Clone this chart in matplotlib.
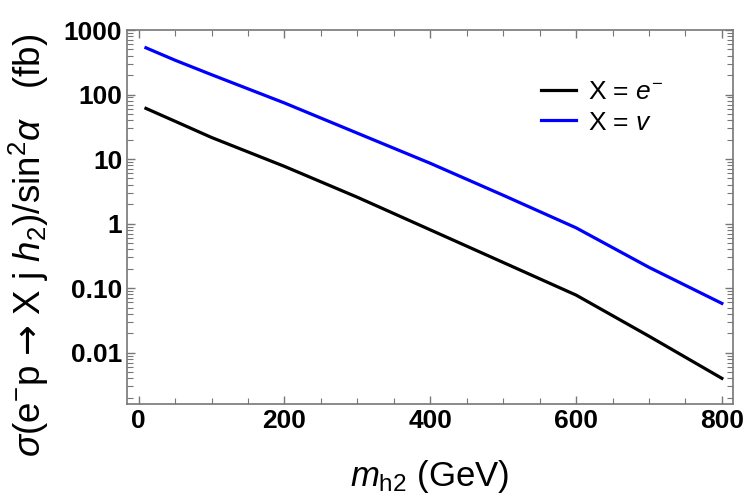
import matplotlib
matplotlib.use("Agg")
import matplotlib.pyplot as plt
from matplotlib.ticker import FixedLocator, FixedFormatter, MultipleLocator, LogLocator, NullFormatter

plt.rcParams["font.family"] = ["Liberation Sans", "DejaVu Sans"]
plt.rcParams["mathtext.fontset"] = "custom"
plt.rcParams["mathtext.rm"] = "Liberation Sans"
plt.rcParams["mathtext.it"] = "Liberation Sans:italic"
plt.rcParams["mathtext.bf"] = "Liberation Sans:bold"
plt.rcParams["mathtext.sf"] = "DejaVu Sans"

# masses (GeV)
m_h2 = [10, 50, 100, 200, 300, 400, 500, 600, 700, 800]
# cross sections / sin^2(alpha) in fb
sigma_e = [61, 38.5, 21.6, 7.7, 2.56, 0.80, 0.25, 0.078, 0.018, 0.0040]
sigma_nu = [530, 340, 203, 74, 25.2, 8.6, 2.75, 0.86, 0.21, 0.058]

ytick_vals = [0.01, 0.1, 1, 10, 100, 1000]
ytick_labels = ["0.01", "0.10", "1", "10", "100", "1000"]

fig = plt.figure(figsize=(7.47, 5.0), dpi=100)
ax = fig.add_axes([0.170, 0.192, 0.811, 0.748])

ax.plot(m_h2, sigma_e, color="black", lw=2.3, label=r"X = $e^{-}$")
ax.plot(m_h2, sigma_nu, color="#0000ff", lw=2.3, label=r"X = $v$")

ax.set_yscale("log")
ax.set_xlim(-16, 815)
ax.set_ylim(0.0016, 1000)

ax.yaxis.set_major_locator(FixedLocator(ytick_vals))
ax.yaxis.set_major_formatter(FixedFormatter(ytick_labels))
ax.yaxis.set_minor_locator(LogLocator(base=10, subs=range(2, 10), numticks=20))
ax.yaxis.set_minor_formatter(NullFormatter())
ax.xaxis.set_major_locator(MultipleLocator(200))
ax.xaxis.set_minor_locator(MultipleLocator(50))

for lbl in ax.get_xticklabels() + ax.get_yticklabels():
    lbl.set_fontweight("bold")
ax.tick_params(which="both", direction="in", top=True, right=True,
               color="#777777", labelsize=19)
ax.tick_params(which="major", length=6, width=1)
ax.tick_params(which="minor", length=4, width=0.8)
for s in ax.spines.values():
    s.set_color("#777777")
    s.set_linewidth(1.2)

ax.set_xlabel(r"$m_{\rm h2}$ (GeV)", fontsize=25)
ax.xaxis.set_label_coords(0.5, -0.145)
ax.set_ylabel(r"$\sigma$(e$^{-}$p $\mathsf{→}$ X j $h_{2}$)/sin$^{2}$$\alpha$   (fb)",
              fontsize=26.5)
ax.yaxis.set_label_coords(-0.125, 0.425)

ax.legend(loc="upper right", bbox_to_anchor=(0.925, 0.93), frameon=False,
          fontsize=19, handlelength=1.35, handletextpad=0.45, labelspacing=0.25)

fig.savefig("out.png", dpi=100)
